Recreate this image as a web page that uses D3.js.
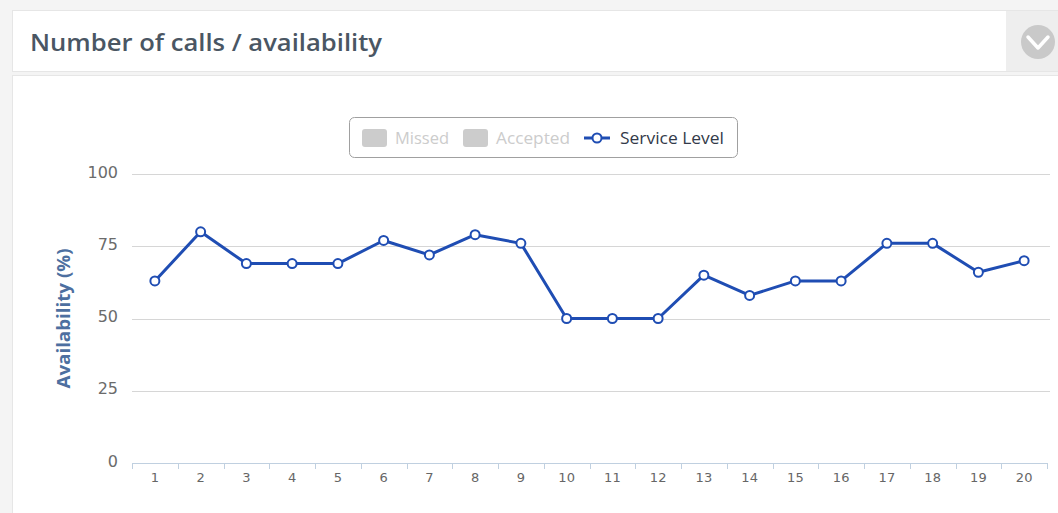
<!DOCTYPE html>
<html>
<head>
<meta charset="utf-8">
<script src="https://cdn.jsdelivr.net/npm/d3@7"></script>
<style>
  html, body { margin: 0; padding: 0; background: #f4f4f4; }
  svg { display: block; font-family: "Open Sans", Lato, sans-serif; }
</style>
</head>
<body>
<svg id="chart" width="1058" height="513"></svg>
<script>
// Daily service level (% availability) for days 1..20
const days = ["1","2","3","4","5","6","7","8","9","10","11","12","13","14","15","16","17","18","19","20"];
const serviceLevel = [63, 80, 69, 69, 69, 77, 72, 79, 76, 50, 50, 50, 65, 58, 63, 63, 76, 76, 66, 70];
const yTicks = [0, 25, 50, 75, 100];
const legendItems = ["Missed", "Accepted", "Service Level"];

const svg = d3.select("#chart");
const W = 1058, H = 513;

// Panel chrome
svg.append("rect").attr("x", 0).attr("y", 0).attr("width", W).attr("height", H).attr("fill", "#f4f4f4");
// header
svg.append("rect").attr("x", 12.5).attr("y", 10.5).attr("width", W).attr("height", 61)
  .attr("fill", "#ffffff").attr("stroke", "#e6e6e6");
// body
svg.append("rect").attr("x", 12.5).attr("y", 75.5).attr("width", W).attr("height", H)
  .attr("fill", "#ffffff").attr("stroke", "#e6e6e6");
// collapse button
svg.append("rect").attr("x", 1006).attr("y", 11).attr("width", 52).attr("height", 60).attr("fill", "#eeeeee");
svg.append("circle").attr("cx", 1038).attr("cy", 42).attr("r", 17).attr("fill", "#c9c9c9");
svg.append("path").attr("d", "M1028,37 L1038,48 L1048,37")
  .attr("fill", "none").attr("stroke", "#ffffff").attr("stroke-width", 3.5)
  .attr("stroke-linecap", "round").attr("stroke-linejoin", "round");

svg.append("text").attr("x", 30).attr("y", 51)
  .attr("font-size", 24).attr("font-weight", 600).attr("fill", "#4a5663")
  .attr("font-family", "'Open Sans', sans-serif")
  .attr("textLength", 352).attr("lengthAdjust", "spacingAndGlyphs")
  .text("Number of calls / availability");

// Plot area
const plotLeft = 132, plotRight = 1047, plotTop = 174, plotBottom = 463;
const x = d3.scaleBand().domain(days).range([plotLeft, plotRight]);
const y = d3.scaleLinear().domain([0, 100]).range([plotBottom, plotTop]);

// grid lines
svg.append("g").selectAll("line").data(yTicks.filter(d => d > 0)).join("line")
  .attr("x1", plotLeft).attr("x2", 1050)
  .attr("y1", d => Math.round(y(d)) + 0.5).attr("y2", d => Math.round(y(d)) + 0.5)
  .attr("stroke", "#d6d6d6").attr("stroke-width", 1);

// y axis labels
const yAxis = d3.axisLeft(y).tickValues(yTicks).tickSize(0).tickPadding(14);
const gy = svg.append("g").attr("transform", `translate(${plotLeft},0)`).call(yAxis);
gy.select(".domain").remove();
gy.selectAll("text").attr("font-size", 16).attr("fill", "#6b6b6b")
  .attr("font-family", "'DejaVu Sans', sans-serif").attr("dy", "0.2em");

// x axis
const xAxis = d3.axisBottom(x).tickSizeInner(0).tickSizeOuter(0).tickPadding(10);
const gx = svg.append("g").attr("transform", `translate(0,${plotBottom})`).call(xAxis);
gx.select(".domain").attr("stroke", "#c0d0e0");
gx.selectAll("text").attr("font-size", 13).attr("fill", "#666666")
  .attr("font-family", "'DejaVu Sans', sans-serif");
// category boundary ticks
gx.append("g").selectAll("line").data(days.concat(["end"])).join("line")
  .attr("x1", (d, i) => Math.round(plotLeft + i * x.step()) + 0.5)
  .attr("x2", (d, i) => Math.round(plotLeft + i * x.step()) + 0.5)
  .attr("y1", 0).attr("y2", 6)
  .attr("stroke", "#c0d0e0");

// y axis title
svg.append("text")
  .attr("transform", `translate(70,${(plotTop + plotBottom) / 2}) rotate(-90)`)
  .attr("text-anchor", "middle")
  .attr("font-size", 17).attr("font-weight", 700).attr("fill", "#4d6fa0")
  .attr("textLength", 140).attr("lengthAdjust", "spacingAndGlyphs")
  .text("Availability (%)");

// Service level line
const lineColor = "#1f4db3";
const cx = d => x(d) + x.bandwidth() / 2;
const line = d3.line().x((d, i) => cx(days[i])).y(d => y(d));
svg.append("path").datum(serviceLevel)
  .attr("d", line).attr("fill", "none")
  .attr("stroke", lineColor).attr("stroke-width", 3).attr("stroke-linejoin", "round");
svg.append("g").selectAll("circle").data(serviceLevel).join("circle")
  .attr("cx", (d, i) => cx(days[i])).attr("cy", d => y(d)).attr("r", 4.5)
  .attr("fill", "#ffffff").attr("stroke", lineColor).attr("stroke-width", 2);

// Legend
const lg = svg.append("g");
lg.append("rect").attr("x", 349.5).attr("y", 117.5).attr("width", 388).attr("height", 40)
  .attr("rx", 5).attr("fill", "#ffffff").attr("stroke", "#a0a0a0");
const ly = 138;
const lgX = [362, 463, 584];
const lgTextX = [395, 496, 620];
const lgTextW = [54, 74, 104];
legendItems.forEach((name, i) => {
  if (i < 2) {
    lg.append("rect").attr("x", lgX[i]).attr("y", ly - 9).attr("width", 25).attr("height", 18)
      .attr("rx", 3).attr("fill", "#cccccc");
  } else {
    lg.append("line").attr("x1", lgX[i]).attr("x2", lgX[i] + 26).attr("y1", ly).attr("y2", ly)
      .attr("stroke", lineColor).attr("stroke-width", 3);
    lg.append("circle").attr("cx", lgX[i] + 13).attr("cy", ly).attr("r", 4.5)
      .attr("fill", "#ffffff").attr("stroke", lineColor).attr("stroke-width", 2);
  }
  lg.append("text").attr("x", lgTextX[i]).attr("y", ly + 6)
    .attr("font-size", 16).attr("fill", i < 2 ? "#cccccc" : "#333a4a")
    .attr("textLength", lgTextW[i]).attr("lengthAdjust", "spacingAndGlyphs")
    .text(name);
});
</script>
</body>
</html>
